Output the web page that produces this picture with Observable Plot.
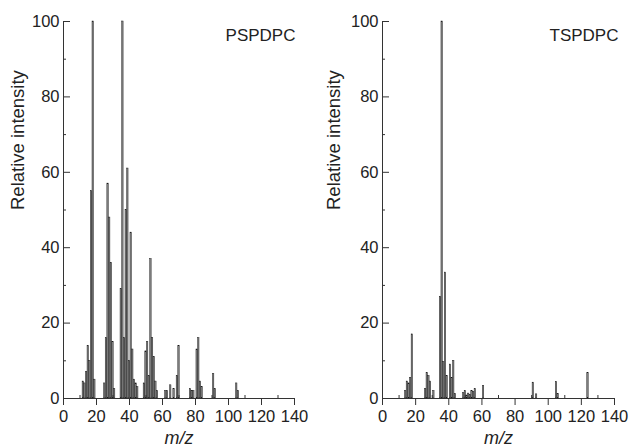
<!DOCTYPE html>
<html>
<head>
<meta charset="utf-8">
<script src="https://cdn.jsdelivr.net/npm/d3@7"></script>
<script src="https://cdn.jsdelivr.net/npm/@observablehq/plot@0.6"></script>
<style>
  html, body { margin: 0; padding: 0; background: white; }
  #fig { display: flex; width: 632px; height: 448px; }
</style>
</head>
<body>
<div id="fig"></div>
<script>
// ---- data ----
const mzTicks = [0, 20, 40, 60, 80, 100, 120, 140];
const mzMinorTicks = [10, 30, 50, 70, 90, 110, 130];
const intensityTicks = [0, 20, 40, 60, 80, 100];
const intensityMinorTicks = [10, 30, 50, 70, 90];

const panelNames = ["PSPDPC", "TSPDPC"];

const pspdpcMz = [12, 13, 14, 15, 16, 17, 18, 19,
  25, 26, 27, 28, 29, 30, 31,
  35, 36, 37, 38, 39, 40, 41, 42, 43, 44, 45,
  49, 50, 51, 52, 53, 54, 55, 56, 57,
  62, 63, 65, 67, 69, 70,
  77, 78, 79, 81, 82, 83, 84,
  91, 92, 105, 106];
const pspdpcIntensity = [4.5, 4, 7, 14, 10, 55, 100, 5,
  4, 16, 57, 48, 36, 15, 2.5,
  29, 100, 16, 50, 61, 10, 44, 13, 5, 4, 3,
  4, 12.5, 15, 6, 37, 16, 11, 4.5, 2,
  2, 2, 3.5, 2.5, 6, 14,
  2.5, 2, 2, 13, 16, 4.5, 3,
  6.5, 2.5, 4, 2];

const tspdpcMz = [14, 15, 16, 17, 18,
  26, 27, 28, 29, 31,
  35, 36, 37, 38, 39, 41, 42, 43, 44,
  49, 50, 51, 52, 53, 54, 55, 56,
  61, 91, 93, 105, 106, 124];
const tspdpcIntensity = [2, 4.5, 4, 5.5, 17,
  2.5, 6.8, 6, 4.5, 2,
  27, 100, 9.7, 33.4, 6, 9, 5.5, 10, 1.2,
  1.4, 2, 0.8, 1.3, 0.9, 2, 1.7, 2.5,
  3.3, 4.2, 1.1, 4.4, 1.2, 6.7];

// ---- drawing ----
const W = 316, H = 448, MT = 21, MB = 50;

function panel(name, mz, intensity, ML, MR, nameDx) {
  const data = mz.map((m, i) => ({mz: m, v: intensity[i]}));
  const plotW = W - ML - MR;
  const plotH = H - MT - MB;
  return Plot.plot({
    width: W, height: H,
    marginTop: MT, marginBottom: MB, marginLeft: ML, marginRight: MR,
    x: {domain: [0, 140]},
    y: {domain: [0, 100]},
    style: {fontFamily: "'Liberation Sans', Arial, Helvetica, sans-serif", fontSize: "16.5px", color: "#222", background: "white"},
    marks: [
      Plot.rectY(data, {x1: d => d.mz - 0.42, x2: d => d.mz + 0.42, y: "v",
        fill: "#858585", stroke: "#111", strokeWidth: 0.45}),
      Plot.ruleX([0], {stroke: "#333", strokeWidth: 1}),
      Plot.ruleY([0], {stroke: "#333", strokeWidth: 1}),
      Plot.tickY(intensityTicks, {y: d => d, insetRight: plotW - 7, stroke: "#333"}),
      Plot.tickY(intensityMinorTicks, {y: d => d, insetRight: plotW - 3, stroke: "#333"}),
      Plot.axisY({ticks: intensityTicks, tickSize: 0, tickPadding: 4, label: null, fontSize: 16.5}),
      Plot.axisX({ticks: mzTicks, tickSize: 7, tickPadding: 5, label: null, fontSize: 16.5, stroke: "#333"}),
      Plot.tickX(mzMinorTicks, {x: d => d, insetTop: plotH - 3, stroke: "#333"}),
      Plot.text(["Relative intensity"], {text: d => d, frameAnchor: "left", rotate: -90, dx: -ML + 18, fontSize: 18.5, fill: "#222"}),
      Plot.text(["m/z"], {text: d => d, frameAnchor: "bottom", lineAnchor: "middle", dy: 40, fontStyle: "italic", fontSize: 18, fill: "#222"}),
      Plot.text([name], {text: d => d, frameAnchor: "top-right", textAnchor: "end", lineAnchor: "middle", dy: 14, dx: nameDx, fontSize: 17, fill: "#222"})
    ]
  });
}

const fig = document.getElementById("fig");
fig.append(panel(panelNames[0], pspdpcMz, pspdpcIntensity, 63, 22, 1));
fig.append(panel(panelNames[1], tspdpcMz, tspdpcIntensity, 66, 18, 4));
</script>
</body>
</html>
